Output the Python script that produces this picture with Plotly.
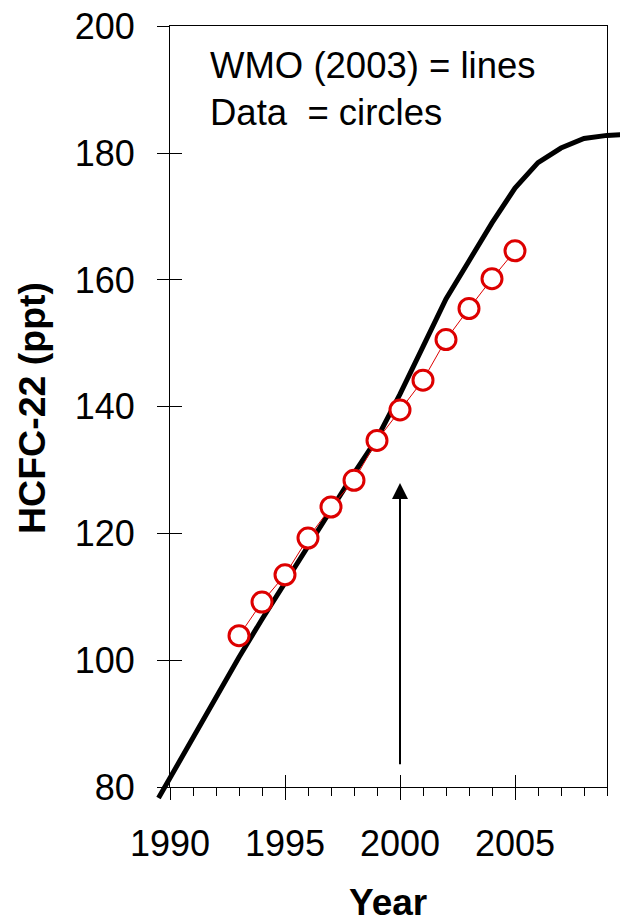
import plotly.graph_objects as go

# ---- data ----
wmo_years = [1989.5, 1990, 1991, 1992, 1993, 1994, 1995, 1996, 1997, 1998, 1999,
             2000, 2001, 2002, 2003, 2004, 2005, 2006, 2007, 2008, 2009, 2010]
wmo_ppt = [78.3, 81.5, 88.0, 94.5, 100.5, 106.5, 112.3, 118.0, 123.8, 129.5, 135.0,
           142.0, 149.5, 157.0, 163.0, 169.0, 174.5, 178.5, 180.8, 182.3, 182.8, 183.0]
obs_years = [1993, 1994, 1995, 1996, 1997, 1998, 1999, 2000, 2001, 2002, 2003, 2004, 2005]
obs_ppt = [103.9, 109.2, 113.5, 119.3, 124.2, 128.4, 134.7, 139.5, 144.2, 150.6, 155.5, 160.2, 164.6]
x_ticks = [1990, 1995, 2000, 2005]
y_ticks = [80, 100, 120, 140, 160, 180, 200]
arrow_year, arrow_tip, arrow_base = 2000, 128.0, 83.4

# ---- geometry ----
W, H = 620, 923
L, R, T, B = 170, 607, 26.3, 787.3   # frame in px
x0, x1 = 1990, 2009
y0, y1 = 80, 200
xs = (x1 - x0) / (R - L)
ys = (y1 - y0) / (B - T)
x2_range = [x0 - L * xs, x1 + (W - R) * xs]
y2_range = [y0 - (H - B) * ys, y1 + T * ys]

FONT = "Liberation Sans, Arial, sans-serif"
RED = "#DD0000"

fig = go.Figure()
fig.add_trace(go.Scatter(x=wmo_years, y=wmo_ppt, mode="lines",
                         line=dict(color="black", width=5),
                         xaxis="x2", yaxis="y2", showlegend=False))
fig.add_trace(go.Scatter(x=obs_years, y=obs_ppt, mode="lines+markers",
                         line=dict(color=RED, width=1),
                         marker=dict(symbol="circle", size=20, color="white",
                                     line=dict(color=RED, width=3)),
                         xaxis="x2", yaxis="y2", showlegend=False))
# dummy traces so the auxiliary tick axes exist
fig.add_trace(go.Scatter(x=[], y=[], xaxis="x", yaxis="y", showlegend=False))
fig.add_trace(go.Scatter(x=[], y=[], xaxis="x3", yaxis="y", showlegend=False))
fig.add_trace(go.Scatter(x=[], y=[], xaxis="x", yaxis="y3", showlegend=False))

axis_common = dict(showgrid=False, zeroline=False, automargin=False)
fig.update_layout(
    template="none",
    width=W, height=H,
    margin=dict(l=0, r=0, t=0, b=0, pad=0, autoexpand=False),
    paper_bgcolor="white", plot_bgcolor="rgba(0,0,0,0)",
    font=dict(family=FONT, color="black"),
    xaxis=dict(domain=[L / W, R / W], range=[x0, x1], anchor="y",
               showline=True, mirror=True, linecolor="black", linewidth=1,
               tickmode="array", tickvals=x_ticks, ticks="outside", ticklen=12,
               tickcolor="black", tickwidth=1,
               tickfont=dict(size=36, family=FONT, color="black"),
               ticklabelstandoff=12,
               minor=dict(tickmode="linear", tick0=1990, dtick=1, ticks="outside",
                          ticklen=8, tickcolor="black", tickwidth=1, showgrid=False),
               **axis_common),
    yaxis=dict(domain=[1 - B / H, 1 - T / H], range=[y0, y1], anchor="x",
               showline=True, mirror=True, linecolor="black", linewidth=1,
               tickmode="array", tickvals=y_ticks, ticks="outside", ticklen=12,
               tickcolor="black", tickwidth=1,
               tickfont=dict(size=36, family=FONT, color="black"),
               ticklabelstandoff=15,
               **axis_common),
    xaxis3=dict(overlaying="x", range=[x0, x1], anchor="y",
                tickmode="array", tickvals=x_ticks, ticks="inside", ticklen=12,
                tickcolor="black", tickwidth=1, showticklabels=False,
                showline=False, **axis_common),
    yaxis3=dict(overlaying="y", range=[y0, y1], anchor="x", side="left",
                tickmode="array", tickvals=y_ticks, ticks="inside", ticklen=12,
                tickcolor="black", tickwidth=1, showticklabels=False,
                showline=False, **axis_common),
    xaxis2=dict(domain=[0, 1], range=x2_range, anchor="y2", visible=False,
                **axis_common),
    yaxis2=dict(domain=[0, 1], range=y2_range, anchor="x2", visible=False,
                **axis_common),
)

fig.add_annotation(x=arrow_year, y=arrow_tip, ax=arrow_year, ay=arrow_base,
                   xref="x", yref="y", axref="x", ayref="y", text="",
                   showarrow=True, arrowhead=2, arrowwidth=2, arrowsize=1.6,
                   arrowcolor="black")

fig.add_annotation(x=208 / W, y=1 - 89 / H, xref="paper", yref="paper",
                   xanchor="left", yanchor="middle", align="left",
                   text="WMO (2003) = lines<br>Data\u00a0 = circles",
                   showarrow=False, font=dict(size=36.5, family=FONT, color="black"))

fig.add_annotation(x=388 / W, y=1 - 902 / H, xref="paper", yref="paper",
                   xanchor="center", yanchor="middle",
                   text="<b>Year</b>", showarrow=False,
                   font=dict(size=37, family=FONT, color="black"))

fig.add_annotation(x=32 / W, y=1 - 408 / H, xref="paper", yref="paper",
                   xanchor="center", yanchor="middle", textangle=-90,
                   text="<b>HCFC-22 (ppt)</b>", showarrow=False,
                   font=dict(size=37.5, family=FONT, color="black"))

fig.write_html("out.html")
